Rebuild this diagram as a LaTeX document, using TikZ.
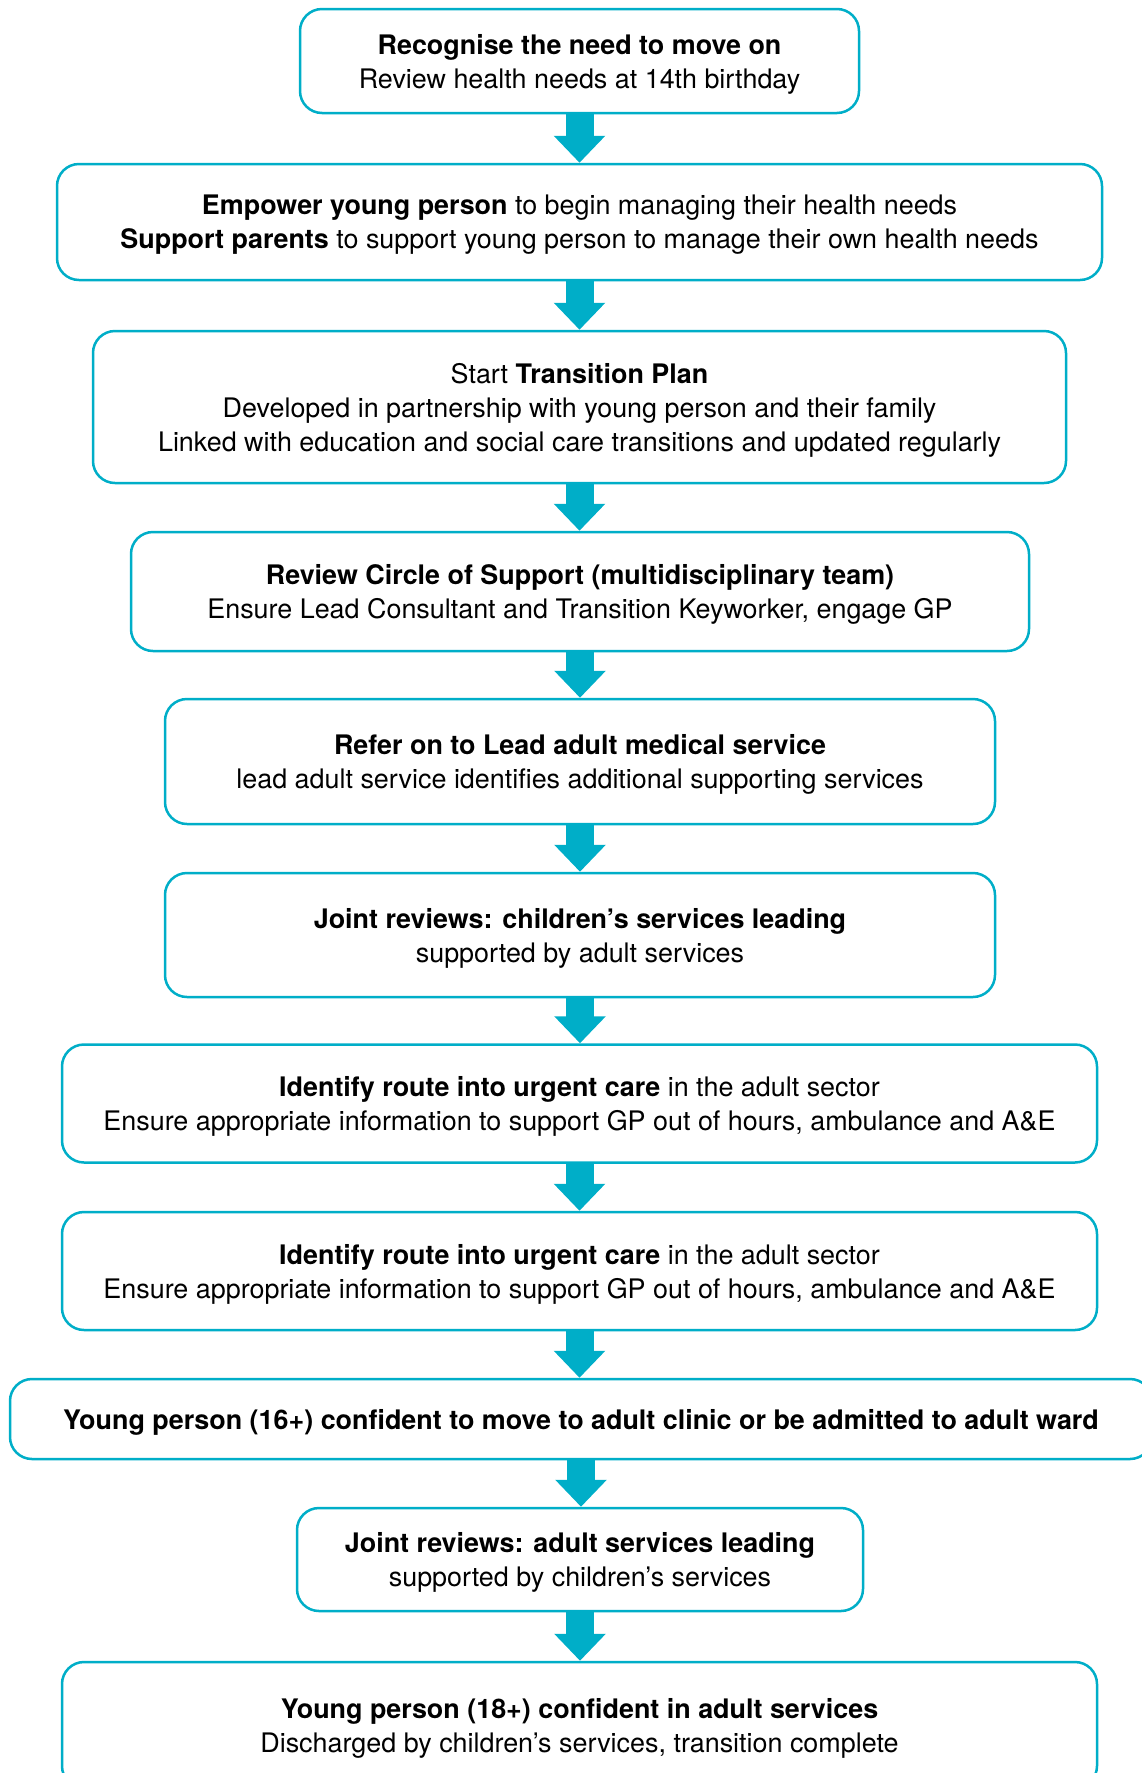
\documentclass[tikz,border=0pt]{standalone}
\usepackage{fontspec}
\setmainfont{TeX Gyre Heros}
\usetikzlibrary{arrows.meta}
\definecolor{flowteal}{RGB}{0,174,200}

\tikzset{
  stepbox/.style={draw=flowteal, line width=2.5pt, rounded corners=22pt,
    fill=white, align=center, inner sep=0pt, text depth=-4pt,
    font=\fontsize{26.9}{34}\selectfont},
  lowtext/.style={text depth=-9pt},
  flowarrow/.style={draw=flowteal, line width=28pt,
    -{Triangle[width=50pt,length=27pt]}}
}

\begin{document}
\begin{tikzpicture}[x=1pt,y=-1pt]
\useasboundingbox (0,0) rectangle (1142,1773);

\node[stepbox, minimum width=559pt, minimum height=104pt] (n1) at (579.5,61)
  {\textbf{Recognise the need to move on}\\Review health needs at 14th birthday};

\node[stepbox, lowtext, minimum width=1045pt, minimum height=116pt] (n2) at (579.5,222)
  {\textbf{Empower young person} to begin managing their health needs\\
   \textbf{Support parents} to support young person to manage their own health needs};

\node[stepbox, lowtext, minimum width=973pt, minimum height=152pt] (n3) at (579.5,407)
  {Start \textbf{Transition Plan}\\
   Developed in partnership with young person and their family\\
   Linked with education and social care transitions and updated regularly};

\node[stepbox, lowtext, minimum width=898pt, minimum height=119pt] (n4) at (580,591.5)
  {\textbf{Review Circle of Support (multidisciplinary team)}\\
   Ensure Lead Consultant and Transition Keyworker, engage GP};

\node[stepbox, minimum width=830pt, minimum height=125pt] (n5) at (580,761.5)
  {\textbf{Refer on to Lead adult medical service}\\
   lead adult service identifies additional supporting services};

\node[stepbox, minimum width=830pt, minimum height=124pt] (n6) at (580,935)
  {\textbf{Joint reviews: children’s services leading}\\
   supported by adult services};

\node[stepbox, lowtext, minimum width=1035pt, minimum height=118pt] (n7) at (579.5,1103.5)
  {\textbf{Identify route into urgent care} in the adult sector\\
   Ensure appropriate information to support GP out of hours, ambulance and A\&E};

\node[stepbox, lowtext, minimum width=1035pt, minimum height=118pt] (n8) at (579.5,1271)
  {\textbf{Identify route into urgent care} in the adult sector\\
   Ensure appropriate information to support GP out of hours, ambulance and A\&E};

\node[stepbox, minimum width=1142pt, minimum height=80pt] (n9) at (581,1419)
  {\textbf{Young person (16+) confident to move to adult clinic or be admitted to adult ward}};

\node[stepbox, minimum width=566pt, minimum height=103pt] (n10) at (580,1559.5)
  {\textbf{Joint reviews: adult services leading}\\
   supported by children’s services};

\node[stepbox, minimum width=1035pt, minimum height=126pt] (n11) at (579.5,1725)
  {\textbf{Young person (18+) confident in adult services}\\
   Discharged by children’s services, transition complete};

% downward connectors between consecutive steps
\foreach \a/\b in {n1/n2,n2/n3,n3/n4,n4/n5,n5/n6,n6/n7,n7/n8,n8/n9,n9/n10,n10/n11}
  \draw[flowarrow] (\a.south) -- (\a.south |- \b.north);
\end{tikzpicture}
\end{document}
